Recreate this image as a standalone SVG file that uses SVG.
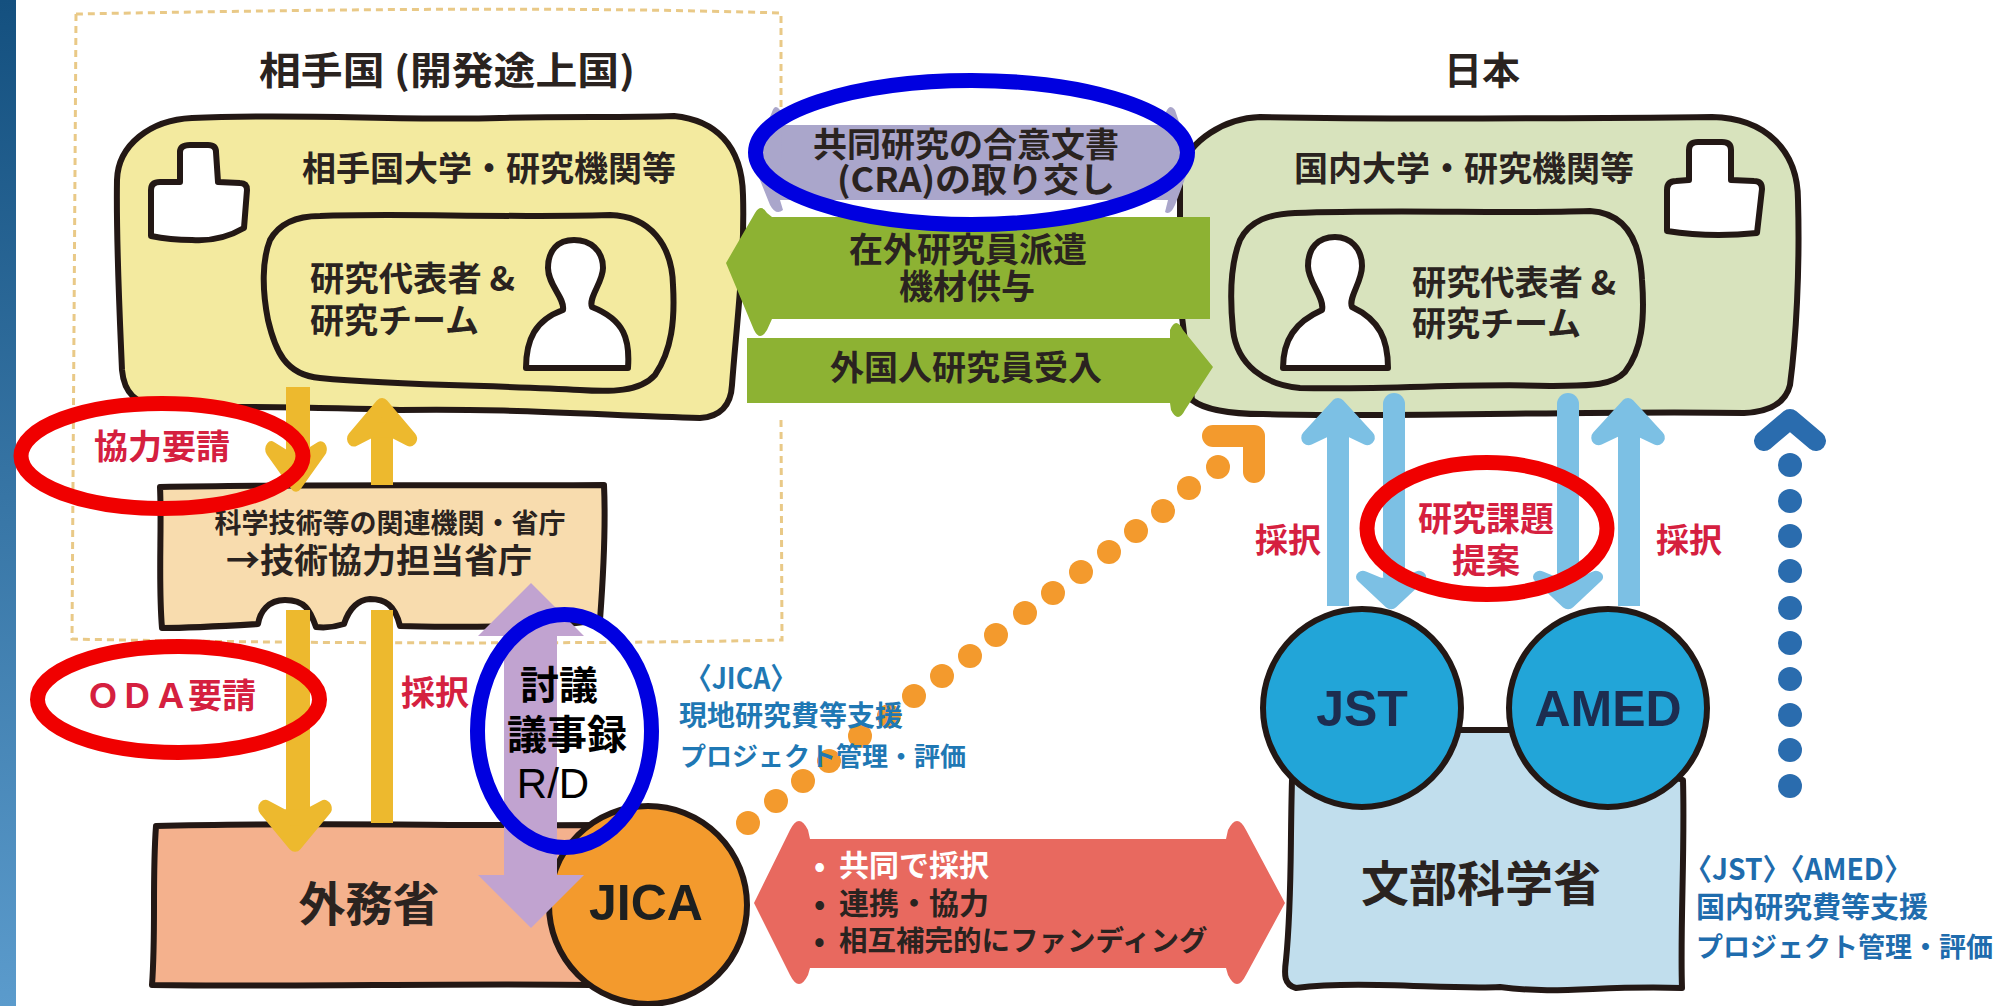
<svg xmlns="http://www.w3.org/2000/svg" width="2013" height="1006" viewBox="0 0 2013 1006">
<style>
text{font-family:"Noto Sans CJK JP","Noto Sans",sans-serif;font-weight:700;fill:#2a2320}
.en{font-family:"Liberation Sans",Arial,sans-serif}
.t{stroke:#231815;stroke-width:6;stroke-linejoin:round}
.red{fill:#d5203f}.blue{fill:#1f78b4}.navy{fill:#1f6cad}
.yw{fill:#edb92e;stroke:#edb92e}.lb{fill:#7cc0e4;stroke:#7cc0e4}
.ring{fill:none;stroke-width:15}
.m{text-anchor:middle}
.dot{fill:#f39a2d}.bd{fill:#2a6cae}
</style>
<defs>
<linearGradient id="strip" x1="0" y1="0" x2="0" y2="1"><stop offset="0" stop-color="#14507f"/><stop offset="1" stop-color="#5b9bcc"/></linearGradient>
<path id="head" d="M0,8 L-28,38 L-11,30 L11,30 L28,38 Z" stroke-width="14" stroke-linejoin="round"/>
</defs>
<rect width="2013" height="1006" fill="#fff"/>
<rect width="16" height="1006" fill="url(#strip)"/>
<path d="M76,14 C300,10 550,6 781,13 L781,200 M781,420 L782,640 C600,644 300,644 72,639 L76,14" fill="none" stroke="#e9c987" stroke-width="3" stroke-dasharray="7 5"/>

<g id="partner-institution">
<path class="t" fill="#f3ea9f" d="M192,118 C300,113 400,121 500,118 C570,116 620,118 674,116 C715,120 742,145 743,195 C745,260 736,330 732,385 C731,405 720,417 700,418 C600,415 500,408 400,410 C320,407 240,407 160,406 C135,405 124,392 122,370 C119,300 116,240 117,180 C118,145 150,120 192,118 Z"/>
<path class="t" fill="#fff" d="M151,190 Q151,182 160,182 L180,182 L180,152 Q180,145 190,145 L208,145 Q216,145 216,152 L218,182 L240,183 Q247,183 247,190 L244,228 Q220,242 192,240 Q170,240 151,236 Z"/>
<path class="t" fill="#f3ea9f" d="M320,216 C400,213 500,218 610,215 C650,216 672,245 673,285 C675,320 672,350 655,375 C640,392 610,392 580,390 C500,385 400,386 320,378 C285,375 275,350 268,320 C262,290 262,260 270,240 C280,222 300,216 320,216 Z"/>
<path class="t" fill="#fff" d="M526,368 L628,368 C630,340 625,320 592,307 C588,298 603,282 603,268 C603,250 590,240 574,240 C558,240 548,250 548,268 C548,285 565,298 563,310 C535,320 526,340 526,368 Z"/>
</g>
<g id="japan-institution">
<path class="t" fill="#d8e3bd" d="M1260,117 C1400,120 1600,118 1712,117 C1765,118 1798,150 1798,200 C1800,270 1796,340 1790,385 C1785,405 1765,412 1744,413 C1600,410 1400,418 1263,414 C1230,414 1205,410 1192,400 L1180,300 L1180,170 C1190,140 1225,118 1260,117 Z"/>
<path class="t" fill="#fff" d="M1667,190 Q1667,181 1676,181 L1689,180 L1689,150 Q1689,142 1698,142 L1722,142 Q1731,142 1731,150 L1731,180 L1754,181 Q1762,181 1762,189 L1757,233 Q1710,238 1667,231 Z"/>
<path class="t" fill="#d8e3bd" d="M1295,213 C1400,209 1500,214 1590,211 C1625,213 1640,240 1642,280 C1645,320 1642,350 1625,372 C1610,388 1580,385 1550,386 C1470,383 1390,390 1300,388 C1265,385 1237,365 1233,330 C1229,290 1232,260 1240,240 C1250,220 1270,214 1295,213 Z"/>
<path class="t" fill="#fff" d="M1283,368 L1388,368 C1388,340 1380,320 1352,307 C1348,298 1362,282 1362,266 C1362,248 1350,237 1335,237 C1318,237 1308,248 1308,266 C1308,282 1325,298 1322,310 C1295,322 1283,340 1283,368 Z"/>
</g>
<g id="tech-ministry">
<path class="t" fill="#f8dcae" d="M160,487 C300,484 450,486 604,485 C606,530 603,580 600,620 L560,625 C520,626 450,628 400,626 C395,605 385,599 370,599 C355,600 348,612 344,624 C335,627 325,628 316,627 C310,610 305,600 285,600 C268,600 260,612 258,624 C225,626 190,628 162,628 C158,580 162,530 160,487 Z"/>
</g>
<g id="mofa">
<path class="t" fill="#f4b18d" d="M156,826 C300,822 450,826 600,825 L600,985 C450,983 300,987 152,985 C156,930 152,880 156,826 Z"/>
</g>
<g id="mext">
<path class="t" fill="#c1deed" d="M1440,730 L1530,730 L1683,780 C1685,850 1680,930 1682,988 C1600,985 1560,995 1500,987 C1450,990 1360,980 1296,988 C1284,985 1284,975 1286,960 C1292,900 1290,850 1292,780 Z"/>
</g>
<g id="jica"><circle class="t" cx="648" cy="905" r="99" fill="#f39a2d"/></g>
<g id="jst"><circle class="t" cx="1362" cy="708" r="99" fill="#22a5d8"/></g>
<g id="amed"><circle class="t" cx="1608" cy="708" r="99" fill="#22a5d8"/></g>

<g id="connectors">
<g fill="#aaa6cb">
<rect x="780" y="125" width="390" height="75"/>
<path d="M782,125 L780,110 Q775,103 772,112 L752,160 L770,205 Q776,216 783,210 L780,200 Z"/>
<path d="M1168,125 L1166,112 Q1170,103 1175,110 L1192,160 L1175,205 Q1170,216 1165,212 L1168,200 Z"/>
</g>
<g fill="#8db233">
<rect x="770" y="217" width="440" height="102"/>
<path d="M726,263 L755,213 Q761,203 767,213 L772,217 L772,319 L767,330 Q760,342 754,330 Z"/>
<rect x="747" y="338" width="425" height="65"/>
<path d="M1170,338 L1170,330 Q1176,316 1183,330 L1213,367 L1185,410 Q1178,424 1171,410 L1170,403 Z"/>
</g>
<g>
<rect x="286" y="387" width="24" height="80" fill="#edb92e"/>
<use href="#head" class="yw" transform="translate(296,493) scale(.88,-1.15)"/>
<rect x="371" y="430" width="22" height="55" fill="#edb92e"/>
<use href="#head" class="yw" transform="translate(382,397) scale(1,1.1)"/>
<rect x="286" y="610" width="24" height="210" fill="#edb92e"/>
<use href="#head" class="yw" transform="translate(295,853) scale(1.05,-1.18)"/>
<rect x="371" y="610" width="22" height="213" fill="#edb92e"/>
</g>
<g>
<rect x="1327" y="430" width="22" height="176" fill="#7cc0e4"/>
<use href="#head" class="lb" transform="translate(1338,397) scale(1.05,1.07)"/>
<path d="M1394,404 V575" stroke="#7cc0e4" stroke-width="22" stroke-linecap="round"/>
<use href="#head" class="lb" transform="translate(1391,610) scale(1,-.87)"/>
<path d="M1568,404 V575" stroke="#7cc0e4" stroke-width="22" stroke-linecap="round"/>
<use href="#head" class="lb" transform="translate(1568,610) scale(1,-.87)"/>
<rect x="1618" y="430" width="22" height="176" fill="#7cc0e4"/>
<use href="#head" class="lb" transform="translate(1628,397) scale(1.05,1.07)"/>
</g>
<g fill="none" stroke="#2a6cae" stroke-width="20" stroke-linecap="round" stroke-linejoin="round"><path d="M1764,441 L1790,419 L1816,441"/></g>
<g class="bd">
<circle cx="1790" cy="465" r="12"/><circle cx="1790" cy="501" r="12"/><circle cx="1790" cy="536" r="12"/><circle cx="1790" cy="571" r="12"/><circle cx="1790" cy="608" r="12"/><circle cx="1790" cy="643" r="12"/><circle cx="1790" cy="679" r="12"/><circle cx="1790" cy="715" r="12"/><circle cx="1790" cy="750" r="12"/><circle cx="1790" cy="786" r="12"/>
</g>
<g class="dot">
<circle cx="748" cy="823" r="12"/><circle cx="776" cy="801" r="12"/><circle cx="803" cy="781" r="12"/><circle cx="829" cy="761" r="12"/><circle cx="860" cy="736" r="12"/><circle cx="889" cy="716" r="12"/><circle cx="914" cy="696" r="12"/><circle cx="942" cy="676" r="12"/><circle cx="970" cy="656" r="12"/><circle cx="996" cy="635" r="12"/><circle cx="1025" cy="613" r="12"/><circle cx="1053" cy="593" r="12"/><circle cx="1081" cy="572" r="12"/><circle cx="1109" cy="552" r="12"/><circle cx="1136" cy="531" r="12"/><circle cx="1163" cy="511" r="12"/><circle cx="1189" cy="488" r="12"/><circle cx="1218" cy="467" r="12"/>
</g>
<path d="M1213,436 L1254,436 L1254,472" fill="none" stroke="#f39a2d" stroke-width="22" stroke-linecap="round" stroke-linejoin="round"/>
<path fill="#e8695f" d="M754,903 L790,830 Q799,812 808,830 L810,839 L1226,839 L1228,830 Q1237,812 1246,830 L1285,903 L1246,975 Q1237,993 1228,975 L1226,968 L810,968 L808,975 Q799,993 790,975 Z"/>
<path fill="#c1a3d0" d="M531,583 L584,636 L557,636 L557,875 L584,875 L531,928 L478,875 L504,875 L504,636 L478,636 Z"/>
</g>

<g id="labels">
<text x="447" y="84" class="m" font-size="38" textLength="376" lengthAdjust="spacingAndGlyphs">相手国 (開発途上国)</text>
<text x="1482" y="84" class="m" font-size="38">日本</text>
<text x="489" y="181" class="m" font-size="34">相手国大学・研究機関等</text>
<text x="1464" y="181" class="m" font-size="34">国内大学・研究機関等</text>
<text x="310" y="291" font-size="34" textLength="205" lengthAdjust="spacingAndGlyphs">研究代表者 &amp;</text>
<text x="310" y="333" font-size="34">研究チーム</text>
<text x="1412" y="295" font-size="34" textLength="204" lengthAdjust="spacingAndGlyphs">研究代表者 &amp;</text>
<text x="1412" y="336" font-size="34">研究チーム</text>
<text x="966" y="157" class="m" font-size="34">共同研究の合意文書</text>
<text x="976" y="192" class="m" font-size="34" textLength="278" lengthAdjust="spacingAndGlyphs">(CRA)の取り交し</text>
<text x="968" y="262" class="m" font-size="34">在外研究員派遣</text>
<text x="967" y="299" class="m" font-size="34">機材供与</text>
<text x="966" y="380" class="m" font-size="34">外国人研究員受入</text>
<text x="390" y="533" class="m" font-size="27">科学技術等の関連機関・省庁</text>
<text x="379" y="573" class="m" font-size="34">→技術協力担当省庁</text>
<text x="369" y="921" class="m" font-size="47">外務省</text>
<text x="646" y="920" class="m en" font-size="50" style="fill:#1d2020">JICA</text>
<text x="1362" y="726" class="m en" font-size="50" style="fill:#1d2d50">JST</text>
<text x="1608" y="726" class="m en" font-size="50" style="fill:#1d2d50">AMED</text>
<text x="1481" y="901" class="m" font-size="48">文部科学省</text>
<text x="162" y="459" class="m red" font-size="34">協力要請</text>
<text x="171" y="708" class="m red" font-size="34">ＯＤＡ要請</text>
<text x="435" y="705" class="m red" font-size="34">採択</text>
<text x="1288" y="552" class="m red" font-size="33">採択</text>
<text x="1689" y="552" class="m red" font-size="33">採択</text>
<text x="1486" y="531" class="m red" font-size="34">研究課題</text>
<text x="1486" y="573" class="m red" font-size="34">提案</text>
<text x="741" y="689" class="m blue" font-size="30" textLength="112" lengthAdjust="spacingAndGlyphs">〈JICA〉</text>
<text x="679" y="726" class="blue" font-size="28">現地研究費等支援</text>
<text x="680" y="766" class="blue" font-size="26">プロジェクト管理・評価</text>
<text x="1684" y="880" class="navy" font-size="30" textLength="228" lengthAdjust="spacingAndGlyphs">〈JST〉〈AMED〉</text>
<text x="1696" y="918" class="navy" font-size="29">国内研究費等支援</text>
<text x="1696" y="957" class="navy" font-size="27">プロジェクト管理・評価</text>
<text font-size="30" style="fill:#fff"><tspan x="814" y="876">•</tspan><tspan x="839" y="876">共同で採択</tspan></text>
<text font-size="30"><tspan x="814" y="914">•</tspan><tspan x="839" y="914">連携・協力</tspan></text>
<text font-size="28.5"><tspan x="814" y="951">•</tspan><tspan x="839" y="951">相互補完的にファンディング</tspan></text>
</g>

<g id="annotations">
<ellipse class="ring" stroke="#0000e0" cx="971.5" cy="152.5" rx="216" ry="72"/>
<ellipse class="ring" stroke="#0000e0" cx="564.5" cy="731" rx="87" ry="116.5"/>
<ellipse class="ring" stroke="#f00000" cx="162" cy="456" rx="141" ry="52.5"/>
<ellipse class="ring" stroke="#f00000" cx="178.5" cy="699.5" rx="141" ry="53"/>
<ellipse class="ring" stroke="#f00000" cx="1487" cy="528.5" rx="120" ry="66"/>
<text x="559" y="699" class="m" font-size="39" style="fill:#000">討議</text>
<text x="567" y="749" class="m" font-size="40" style="fill:#000">議事録</text>
<text x="553" y="798" class="m en" font-size="42" style="fill:#000;font-weight:400">R/D</text>
</g>
</svg>
